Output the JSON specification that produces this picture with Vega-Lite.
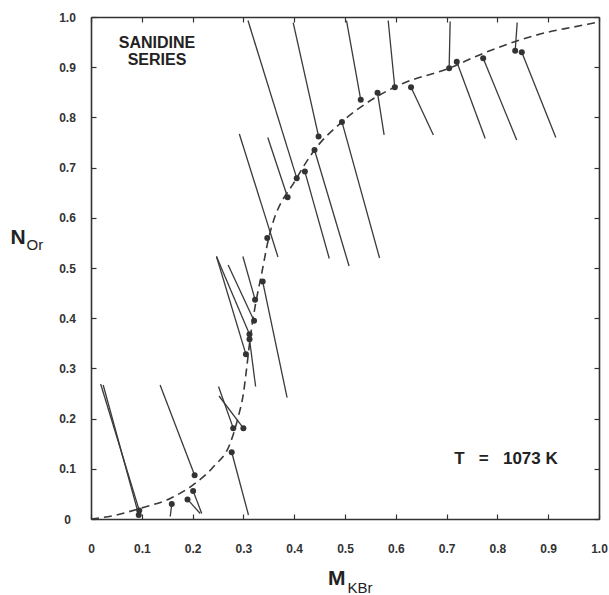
{
  "$schema": "https://vega.github.io/schema/vega-lite/v6.json",
  "width": 508,
  "height": 502,
  "autosize": {"type": "none"},
  "padding": {"left": 91, "top": 17, "right": 10, "bottom": 76},
  "background": "white",
  "config": {"view": {"stroke": null}},
  "datasets": {
    "curve": [
      {"x": 0, "y": 0}, {"x": 0.05, "y": 0.008}, {"x": 0.096, "y": 0.021}, {"x": 0.156, "y": 0.041},
      {"x": 0.201, "y": 0.068}, {"x": 0.241, "y": 0.104}, {"x": 0.274, "y": 0.151}, {"x": 0.29, "y": 0.204},
      {"x": 0.3, "y": 0.25}, {"x": 0.306, "y": 0.297}, {"x": 0.313, "y": 0.357}, {"x": 0.323, "y": 0.423},
      {"x": 0.336, "y": 0.489}, {"x": 0.349, "y": 0.556}, {"x": 0.405, "y": 0.679}, {"x": 0.44, "y": 0.735},
      {"x": 0.494, "y": 0.791}, {"x": 0.562, "y": 0.841}, {"x": 0.615, "y": 0.868}, {"x": 0.705, "y": 0.898},
      {"x": 0.766, "y": 0.925}, {"x": 0.838, "y": 0.952}, {"x": 0.9, "y": 0.97}, {"x": 0.95, "y": 0.98},
      {"x": 1.0, "y": 0.99}
    ],
    "segs": [
      {"x": 0.309, "y": 0.993, "x2": 0.405, "y2": 0.679},
      {"x": 0.421, "y": 0.692, "x2": 0.469, "y2": 0.519},
      {"x": 0.398, "y": 0.989, "x2": 0.448, "y2": 0.762},
      {"x": 0.44, "y": 0.735, "x2": 0.508, "y2": 0.504},
      {"x": 0.503, "y": 0.993, "x2": 0.531, "y2": 0.835},
      {"x": 0.494, "y": 0.791, "x2": 0.568, "y2": 0.52},
      {"x": 0.585, "y": 0.993, "x2": 0.598, "y2": 0.86},
      {"x": 0.564, "y": 0.849, "x2": 0.577, "y2": 0.765},
      {"x": 0.63, "y": 0.86, "x2": 0.674, "y2": 0.765},
      {"x": 0.292, "y": 0.767, "x2": 0.368, "y2": 0.522},
      {"x": 0.348, "y": 0.76, "x2": 0.387, "y2": 0.641},
      {"x": 0.707, "y": 0.991, "x2": 0.705, "y2": 0.898},
      {"x": 0.72, "y": 0.911, "x2": 0.776, "y2": 0.758},
      {"x": 0.772, "y": 0.918, "x2": 0.838, "y2": 0.755},
      {"x": 0.839, "y": 0.989, "x2": 0.835, "y2": 0.933},
      {"x": 0.848, "y": 0.93, "x2": 0.915, "y2": 0.76},
      {"x": 0.338, "y": 0.473, "x2": 0.386, "y2": 0.242},
      {"x": 0.299, "y": 0.523, "x2": 0.323, "y2": 0.437},
      {"x": 0.27, "y": 0.506, "x2": 0.321, "y2": 0.395},
      {"x": 0.247, "y": 0.523, "x2": 0.312, "y2": 0.368},
      {"x": 0.247, "y": 0.523, "x2": 0.305, "y2": 0.328},
      {"x": 0.312, "y": 0.358, "x2": 0.324, "y2": 0.264},
      {"x": 0.251, "y": 0.264, "x2": 0.28, "y2": 0.181},
      {"x": 0.252, "y": 0.245, "x2": 0.3, "y2": 0.181},
      {"x": 0.277, "y": 0.133, "x2": 0.31, "y2": 0.008},
      {"x": 0.136, "y": 0.267, "x2": 0.204, "y2": 0.087},
      {"x": 0.201, "y": 0.056, "x2": 0.218, "y2": 0.011},
      {"x": 0.19, "y": 0.039, "x2": 0.215, "y2": 0.011},
      {"x": 0.159, "y": 0.03, "x2": 0.156, "y2": 0.005},
      {"x": 0.019, "y": 0.269, "x2": 0.095, "y2": 0.017},
      {"x": 0.024, "y": 0.267, "x2": 0.094, "y2": 0.008}
    ],
    "dots": [
      {"x": 0.405, "y": 0.679}, {"x": 0.421, "y": 0.692}, {"x": 0.448, "y": 0.762}, {"x": 0.44, "y": 0.735},
      {"x": 0.531, "y": 0.835}, {"x": 0.494, "y": 0.791}, {"x": 0.598, "y": 0.86}, {"x": 0.564, "y": 0.849},
      {"x": 0.63, "y": 0.86}, {"x": 0.347, "y": 0.56}, {"x": 0.387, "y": 0.641}, {"x": 0.705, "y": 0.898},
      {"x": 0.72, "y": 0.911}, {"x": 0.772, "y": 0.918}, {"x": 0.835, "y": 0.933}, {"x": 0.848, "y": 0.93},
      {"x": 0.338, "y": 0.473}, {"x": 0.323, "y": 0.437}, {"x": 0.321, "y": 0.395}, {"x": 0.312, "y": 0.368},
      {"x": 0.312, "y": 0.358}, {"x": 0.305, "y": 0.328}, {"x": 0.28, "y": 0.181}, {"x": 0.3, "y": 0.181},
      {"x": 0.277, "y": 0.133}, {"x": 0.204, "y": 0.087}, {"x": 0.201, "y": 0.056}, {"x": 0.19, "y": 0.039},
      {"x": 0.159, "y": 0.03}, {"x": 0.095, "y": 0.017}, {"x": 0.094, "y": 0.008}
    ],
    "series": [
      {"x": 0.13, "y": 0.948, "text": "SANIDINE"},
      {"x": 0.13, "y": 0.915, "text": "SERIES"}
    ],
    "temp": [
      {"x": 0.817, "y": 0.1195, "text": "T\u00a0\u00a0\u00a0=\u00a0\u00a0\u00a01073 K"}
    ],
    "sym": [
      {"x": -0.1437, "y": 0.5598, "text": "N"},
      {"x": 0.484, "y": -0.1205, "text": "M"}
    ],
    "sub": [
      {"x": -0.127, "y": 0.545, "text": "Or"},
      {"x": 0.505, "y": -0.137, "text": "KBr"}
    ]
  },
  "layer": [
    {
      "data": {"name": "curve"},
      "mark": {"type": "line", "color": "#3a3a3a", "strokeWidth": 1.6, "strokeDash": [8, 5], "interpolate": "monotone"},
      "encoding": {
        "x": {"field": "x", "type": "quantitative",
          "scale": {"domain": [0, 1], "nice": false, "zero": false},
          "axis": {"orient": "bottom", "title": null, "values": [0, 0.1, 0.2, 0.3, 0.4, 0.5, 0.6, 0.7, 0.8, 0.9, 1.0],
            "labelExpr": "datum.value == 0 ? '0' : format(datum.value, '.1f')", "grid": false,
            "tickSize": -5, "tickColor": "#333", "tickWidth": 1.2, "domainColor": "#333", "domainWidth": 1.6,
            "labelFont": "Liberation Sans", "labelFontWeight": "bold", "labelFontSize": 12, "labelColor": "#333",
            "labelPadding": 29, "labelFlush": false, "labelOverlap": false}},
        "y": {"field": "y", "type": "quantitative",
          "scale": {"domain": [0, 1], "nice": false, "zero": false},
          "axis": {"orient": "left", "title": null, "values": [0, 0.1, 0.2, 0.3, 0.4, 0.5, 0.6, 0.7, 0.8, 0.9, 1.0],
            "labelExpr": "datum.value == 0 ? '0' : format(datum.value, '.1f')", "grid": false,
            "tickSize": -5, "tickColor": "#333", "tickWidth": 1.2, "domainColor": "#333", "domainWidth": 1.6,
            "labelFont": "Liberation Sans", "labelFontWeight": "bold", "labelFontSize": 12, "labelColor": "#333",
            "labelAlign": "center", "labelBaseline": "middle",
            "labelPadding": 29, "labelFlush": false, "labelOverlap": false}}
      }
    },
    {
      "data": {"name": "segs"},
      "mark": {"type": "rule", "color": "#3a3a3a", "strokeWidth": 1.3},
      "encoding": {
        "x": {"field": "x", "type": "quantitative",
          "axis": {"orient": "top", "title": null, "labels": false, "values": [0, 0.1, 0.2, 0.3, 0.4, 0.5, 0.6, 0.7, 0.8, 0.9, 1.0], "grid": false,
            "tickSize": -5, "tickColor": "#333", "tickWidth": 1.2, "domainColor": "#333", "domainWidth": 1.6}},
        "y": {"field": "y", "type": "quantitative",
          "axis": {"orient": "right", "title": null, "labels": false, "values": [0, 0.1, 0.2, 0.3, 0.4, 0.5, 0.6, 0.7, 0.8, 0.9, 1.0], "grid": false,
            "tickSize": -5, "tickColor": "#333", "tickWidth": 1.2, "domainColor": "#333", "domainWidth": 1.6}},
        "x2": {"field": "x2"},
        "y2": {"field": "y2"}
      }
    },
    {
      "data": {"name": "dots"},
      "mark": {"type": "point", "filled": true, "color": "#333", "size": 36, "opacity": 1},
      "encoding": {
        "x": {"field": "x", "type": "quantitative", "axis": null},
        "y": {"field": "y", "type": "quantitative", "axis": null}
      }
    },
    {
      "data": {"name": "series"},
      "mark": {"type": "text", "font": "Liberation Sans", "fontWeight": "bold", "fontSize": 16, "color": "#222", "align": "center", "baseline": "middle"},
      "encoding": {
        "x": {"field": "x", "type": "quantitative", "axis": null},
        "y": {"field": "y", "type": "quantitative", "axis": null},
        "text": {"field": "text"}
      }
    },
    {
      "data": {"name": "temp"},
      "mark": {"type": "text", "font": "Liberation Sans", "fontWeight": "bold", "fontSize": 17, "color": "#222", "align": "center", "baseline": "middle"},
      "encoding": {
        "x": {"field": "x", "type": "quantitative", "axis": null},
        "y": {"field": "y", "type": "quantitative", "axis": null},
        "text": {"field": "text"}
      }
    },
    {
      "data": {"name": "sym"},
      "mark": {"type": "text", "font": "Liberation Sans", "fontWeight": "bold", "fontSize": 21, "color": "#222", "align": "center", "baseline": "middle"},
      "encoding": {
        "x": {"field": "x", "type": "quantitative", "axis": null},
        "y": {"field": "y", "type": "quantitative", "axis": null},
        "text": {"field": "text"}
      }
    },
    {
      "data": {"name": "sub"},
      "mark": {"type": "text", "font": "Liberation Sans", "fontSize": 15, "color": "#222", "align": "left", "baseline": "middle"},
      "encoding": {
        "x": {"field": "x", "type": "quantitative", "axis": null},
        "y": {"field": "y", "type": "quantitative", "axis": null},
        "text": {"field": "text"}
      }
    }
  ],
  "resolve": {"axis": {"x": "independent", "y": "independent"}}
}
